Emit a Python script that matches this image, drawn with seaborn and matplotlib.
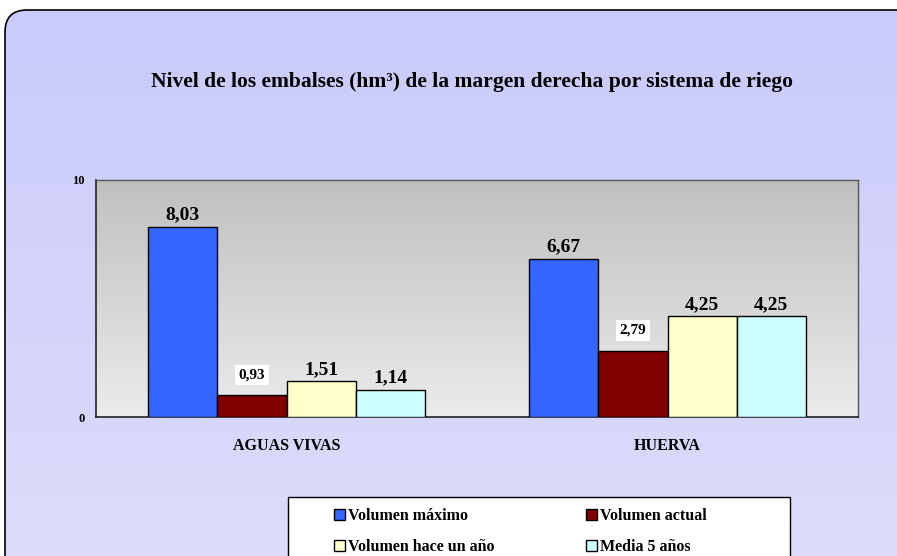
import numpy as np
import pandas as pd
import matplotlib
matplotlib.use("Agg")
import matplotlib.pyplot as plt
import seaborn as sns
from matplotlib.patches import FancyBboxPatch, Rectangle, Patch
from matplotlib.colors import LinearSegmentedColormap

# ---------------------------------------------
# Data
# ---------------------------------------------
sistemas = ["AGUAS VIVAS", "HUERVA"]
series = ["Volumen máximo", "Volumen actual", "Volumen hace un año", "Media 5 años"]
vol_maximo = [8.03, 6.67]
vol_actual = [0.93, 2.79]
vol_hace_un_ano = [1.51, 4.25]
media_5_anos = [1.14, 4.25]
colores = ["#3366FF", "#800000", "#FFFFCC", "#CCFFFF"]

df = pd.DataFrame({
    "Sistema": sistemas * 4,
    "Serie": [s for s in series for _ in sistemas],
    "Valor": vol_maximo + vol_actual + vol_hace_un_ano + media_5_anos,
})

sns.set_style("white")
plt.rcParams["font.family"] = ["Liberation Serif", "DejaVu Serif"]
plt.rcParams["font.weight"] = "bold"
plt.rcParams["text.color"] = "black"
plt.rcParams["xtick.labelcolor"] = "black"
plt.rcParams["ytick.labelcolor"] = "black"

W, H = 897, 556
fig = plt.figure(figsize=(W / 100, H / 100), dpi=100)
fig.patch.set_facecolor("white")

# ---------------------------------------------
# Background with rounded border
# ---------------------------------------------
bg = fig.add_axes([0, 0, 1, 1], zorder=-5)
bg.set_xlim(0, W)
bg.set_ylim(H, 0)
bg.axis("off")
bg_cmap = LinearSegmentedColormap.from_list("bg", ["#CACAFC", "#DCDCFA"])
grad = np.linspace(0, 1, 256).reshape(-1, 1)
im = bg.imshow(grad, cmap=bg_cmap, extent=[0, W, H, 0], aspect="auto")
box = FancyBboxPatch((5, 10), W + 40, H + 40, boxstyle="round,pad=0,rounding_size=22",
                     facecolor="none", edgecolor="black", linewidth=1.2)
bg.add_patch(box)
im.set_clip_path(box)

# ---------------------------------------------
# Bar chart
# ---------------------------------------------
ax = fig.add_axes([96 / W, 1 - 417 / H, 762 / W, 237 / H])
sns.barplot(data=df, x="Sistema", y="Valor", hue="Serie", hue_order=series,
            palette=colores, width=0.727, gap=0, edgecolor="black", linewidth=1,
            saturation=1, legend=False, ax=ax, zorder=3)

ax.set_xlim(-0.5, 1.5)
ax_cmap = LinearSegmentedColormap.from_list("ax", ["#C0C0C0", "#EBEBEB"])
ax.imshow(grad, cmap=ax_cmap, extent=[-0.5, 1.5, 0, 10], aspect="auto", zorder=0)
ax.set_ylim(0, 10)

for i, cont in enumerate(ax.containers):
    etiquetas = [f"{v:.2f}".replace(".", ",") for v in cont.datavalues]
    if i == 1:
        ax.bar_label(cont, labels=etiquetas, padding=10, fontsize=11, fontweight="bold",
                     color="black", bbox=dict(facecolor="white", edgecolor="none", pad=2.5),
                     zorder=4)
    else:
        ax.bar_label(cont, labels=etiquetas, padding=2.5, fontsize=14, fontweight="bold",
                     color="black", zorder=4)

ax.set_xlabel("")
ax.set_ylabel("")
ax.set_yticks([0, 10])
ax.set_yticklabels(["0", "10"], fontsize=9, fontweight="bold")
ax.set_xticks([0, 1])
ax.set_xticklabels(sistemas, fontsize=11.5, fontweight="bold")
ax.set_xticks([-0.5, 0.5, 1.5], minor=True)
ax.tick_params(axis="x", which="major", length=0, pad=15)
ax.tick_params(axis="x", which="minor", length=5, width=1, color="#444444", direction="out")
ax.tick_params(axis="y", length=0, pad=8)
ax.tick_params(bottom=True, left=True)
for side in ["left", "bottom"]:
    ax.spines[side].set_color("#222222")
    ax.spines[side].set_linewidth(1.2)
for side in ["top", "right"]:
    ax.spines[side].set_color("#555555")
    ax.spines[side].set_linewidth(1)

# ---------------------------------------------
# Title
# ---------------------------------------------
fig.text(472 / W, 1 - 82 / H,
         "Nivel de los embalses (hm³) de la margen derecha por sistema de riego",
         ha="center", va="center", fontsize=15.5, fontweight="bold", color="black")

# ---------------------------------------------
# Legend (filled row by row like the original)
# ---------------------------------------------
bg.add_patch(Rectangle((288, 497), 502, 80, facecolor="white", edgecolor="black", linewidth=1))
handles = [Patch(facecolor=c, edgecolor="black", linewidth=1) for c in colores]
orden = [0, 2, 1, 3]
fig.legend([handles[k] for k in orden], [series[k] for k in orden],
           loc="upper left", bbox_to_anchor=(334 / W, 1 - 508 / H),
           ncol=2, frameon=False, prop={"size": 11.5, "weight": "bold"},
           labelcolor="black",
           handlelength=0.7, handleheight=0.7, handletextpad=0.2,
           columnspacing=5.7, labelspacing=0.95, borderpad=0, borderaxespad=0)

fig.savefig("out.png", dpi=100)
